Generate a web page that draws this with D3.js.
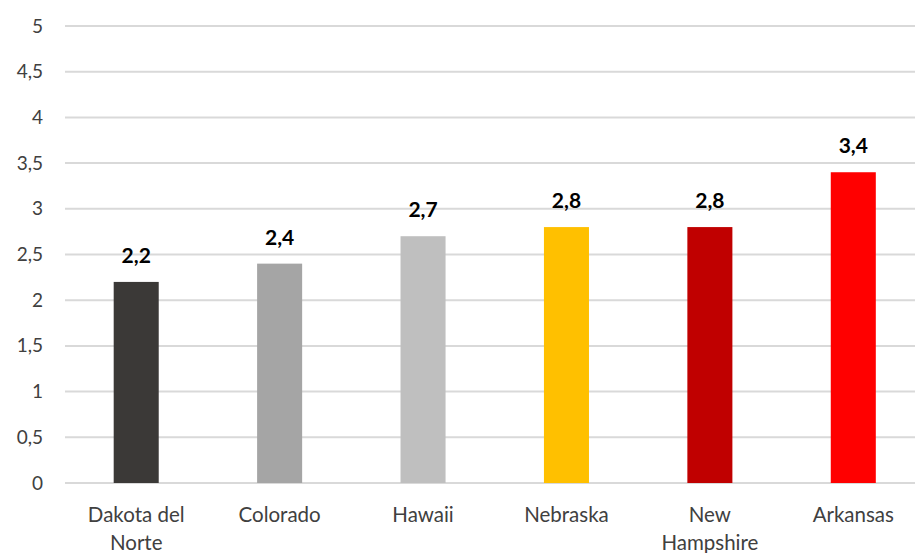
<!DOCTYPE html>
<html>
  <head>
    <meta charset="utf-8"/>
    <script type="text/javascript" src="https://cdnjs.cloudflare.com/ajax/libs/d3/7.8.5/d3.min.js"></script>
    <style type="text/css">

html, body {
  margin: 0;
  padding: 0;
  background: #fff;
}

svg {
  font-family: Lato, "Open Sans", sans-serif;
}

.grid line {
  stroke: #d9d9d9;
  stroke-width: 2px;
}

.tick text {
  fill: #404040;
  font-size: 19px;
  font-family: Lato, "Open Sans", sans-serif;
}

.value {
  font-weight: bold;
  font-size: 21px;
  fill: #000;
}

.cat {
  font-size: 20.5px;
  fill: #404040;
}

    </style>
  </head>
  <body>
    <script type="text/javascript">

var states = ["Dakota del Norte", "Colorado", "Hawaii", "Nebraska", "New Hampshire", "Arkansas"];
var values = [2.2, 2.4, 2.7, 2.8, 2.8, 3.4];
var colors = ["#3b3937", "#a5a5a5", "#bfbfbf", "#ffc000", "#c00000", "#ff0000"];
var yTicks = [0, 0.5, 1, 1.5, 2, 2.5, 3, 3.5, 4, 4.5, 5];
var labelLines = [["Dakota del", "Norte"], ["Colorado"], ["Hawaii"], ["Nebraska"], ["New", "Hampshire"], ["Arkansas"]];

var width = 915, height = 553;

var svg = d3.select("body").append("svg")
    .attr("width", width)
    .attr("height", height);

var x = d3.scaleBand()
    .domain(states)
    .range([64.5, 925])
    .paddingInner(0.686)
    .paddingOuter(0.343);

var y = d3.scaleLinear()
    .domain([0, 5])
    .range([483, 26]);

// horizontal gridlines
svg.append("g")
    .attr("class", "grid")
    .selectAll("line")
    .data(yTicks)
  .enter().append("line")
    .attr("x1", 65)
    .attr("x2", width)
    .attr("y1", function(d) { return y(d); })
    .attr("y2", function(d) { return y(d); });

// y axis labels, decimal comma
var yAxis = d3.axisLeft(y)
    .tickValues(yTicks)
    .tickSize(0)
    .tickPadding(0)
    .tickFormat(function(d) { return String(d).replace(".", ","); });

svg.append("g")
    .attr("transform", "translate(43,0)")
    .call(yAxis)
    .call(function(g) { g.select(".domain").remove(); });

// bars
svg.selectAll("rect.bar")
    .data(values)
  .enter().append("rect")
    .attr("class", "bar")
    .attr("x", function(d, i) { return x(states[i]); })
    .attr("width", x.bandwidth())
    .attr("y", function(d) { return y(d); })
    .attr("height", function(d) { return y(0) - y(d); })
    .attr("fill", function(d, i) { return colors[i]; });

// value labels
svg.selectAll("text.value")
    .data(values)
  .enter().append("text")
    .attr("class", "value")
    .attr("text-anchor", "middle")
    .attr("x", function(d, i) { return x(states[i]) + x.bandwidth() / 2; })
    .attr("y", function(d) { return y(d) - 19; })
    .text(function(d) { return String(d).replace(".", ","); });

// category labels (wrapped like the original)
var cat = svg.selectAll("text.cat")
    .data(states)
  .enter().append("text")
    .attr("class", "cat")
    .attr("text-anchor", "middle")
    .attr("x", function(d) { return x(d) + x.bandwidth() / 2; })
    .attr("y", 522);

cat.selectAll("tspan")
    .data(function(d, i) { return labelLines[i]; })
  .enter().append("tspan")
    .attr("x", function() { return d3.select(this.parentNode).attr("x"); })
    .attr("dy", function(d, i) { return i === 0 ? 0 : 28; })
    .text(function(d) { return d; });

    </script>
  </body>
</html>
